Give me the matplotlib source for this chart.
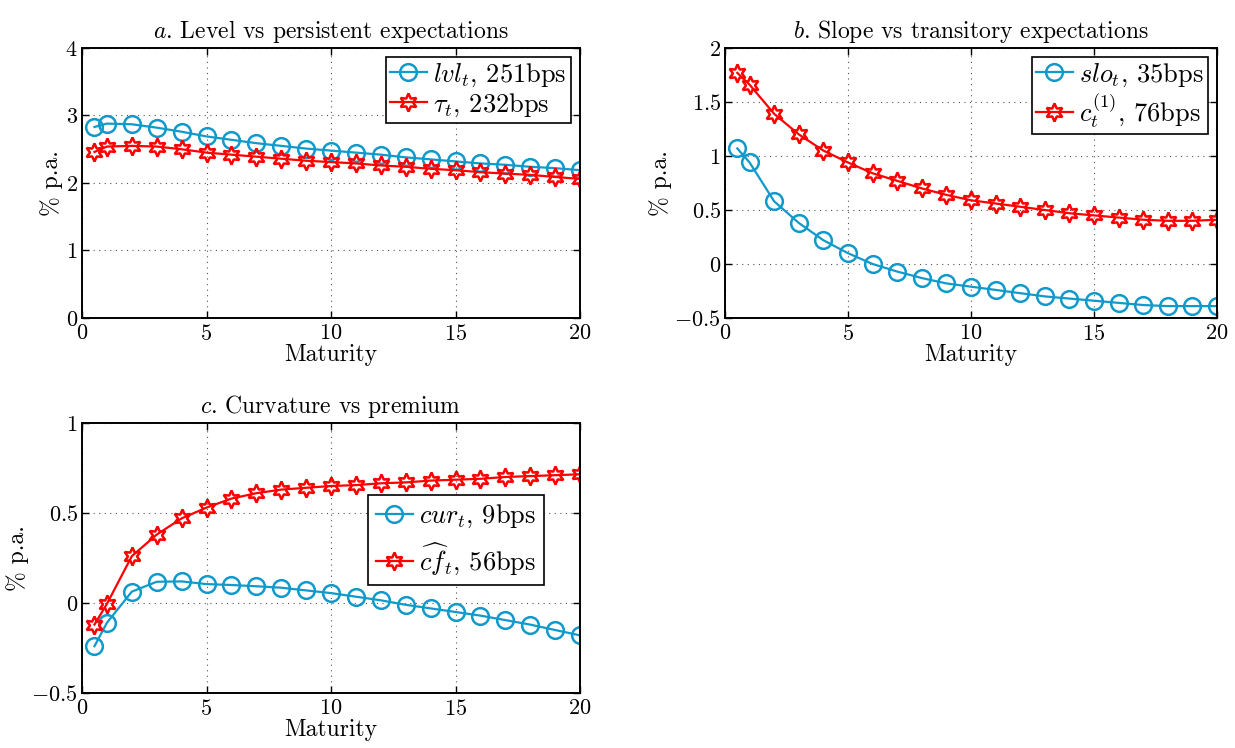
import numpy as np
import matplotlib
matplotlib.use('Agg')
import matplotlib.pyplot as plt
from matplotlib.ticker import FuncFormatter

plt.rcParams['font.family'] = 'cmr10'
plt.rcParams['mathtext.fontset'] = 'cm'
plt.rcParams['axes.formatter.use_mathtext'] = True
plt.rcParams['font.size'] = 17

# Data
maturity = [0.5] + list(range(1, 21))

lvl = [2.83, 2.88, 2.87, 2.82, 2.76, 2.69, 2.64, 2.59, 2.55, 2.51, 2.48,
       2.45, 2.42, 2.38, 2.35, 2.32, 2.29, 2.27, 2.24, 2.22, 2.19]
tau = [2.46, 2.54, 2.55, 2.54, 2.50, 2.45, 2.42, 2.39, 2.36, 2.33, 2.31,
       2.29, 2.26, 2.24, 2.21, 2.19, 2.16, 2.14, 2.12, 2.09, 2.06]

slo = [1.07, 0.94, 0.58, 0.38, 0.22, 0.10, 0.00, -0.07, -0.13, -0.18, -0.21,
       -0.24, -0.27, -0.30, -0.32, -0.34, -0.36, -0.38, -0.39, -0.39, -0.39]
c1 = [1.77, 1.66, 1.39, 1.20, 1.05, 0.94, 0.84, 0.77, 0.70, 0.64, 0.59,
      0.56, 0.53, 0.50, 0.47, 0.45, 0.43, 0.41, 0.40, 0.40, 0.41]

cur = [-0.24, -0.11, 0.063, 0.118, 0.12, 0.105, 0.10, 0.093, 0.085, 0.07, 0.055,
       0.035, 0.015, -0.01, -0.03, -0.05, -0.07, -0.095, -0.12, -0.15, -0.18]
cf = [-0.12, -0.005, 0.26, 0.38, 0.47, 0.53, 0.58, 0.61, 0.63, 0.64, 0.65,
      0.655, 0.665, 0.67, 0.68, 0.685, 0.69, 0.70, 0.705, 0.71, 0.715]

blue = '#0f9acb'
red = '#ff0000'
hexagram = (6, 1, 0)

W, H = 1235, 748
fig = plt.figure(figsize=(W / 100, H / 100), dpi=100)


def make_axes(x0, y0, x1, y1):
    return fig.add_axes([x0 / W, 1 - y1 / H, (x1 - x0) / W, (y1 - y0) / H])


def style(ax, ylim, yticks, title):
    ax.set_xlim(0, 20)
    ax.set_ylim(*ylim)
    ax.set_xticks([0, 5, 10, 15, 20])
    ax.set_yticks(yticks)
    fmt = FuncFormatter(lambda v, p: '$%g$' % round(v, 3))
    ax.xaxis.set_major_formatter(fmt)
    ax.yaxis.set_major_formatter(fmt)
    ax.tick_params(direction='in', top=True, right=True, length=5,
                   width=1.0, labelsize=16)
    ax.tick_params(axis='x', pad=4)
    ax.tick_params(axis='y', pad=3)
    ax.grid(True, linestyle=(0, (1, 4)), color='#555555', linewidth=0.8)
    ax.set_xlabel('Maturity', fontsize=17, labelpad=0)
    ax.set_ylabel('% p.a.', fontsize=17, labelpad=2)
    ax.set_title(title, fontsize=17, pad=7)
    for s in ax.spines.values():
        s.set_linewidth(1.4)


def plot_pair(ax, yb, yr, lb, lr):
    ax.plot(maturity, yb, color=blue, lw=1.6, marker='o', ms=12,
            mfc='none', mew=1.8, label=lb)
    ax.plot(maturity, yr, color=red, lw=1.6, marker=hexagram, ms=13,
            mfc='none', mew=1.8, label=lr)


leg_kw = dict(fancybox=False, edgecolor='black', handlelength=1.4,
              handletextpad=0.25, fontsize=19, framealpha=1)

ax_a = make_axes(82, 48, 580, 318)
plot_pair(ax_a, lvl, tau, r'$lvl_t$, 251bps', r'$\tau_t$, 232bps')
style(ax_a, (0, 4), [0, 1, 2, 3, 4], r'$a$. Level vs persistent expectations')
leg = ax_a.legend(loc='upper right', borderaxespad=0.35, labelspacing=0.1,
                  borderpad=0.15, **leg_kw)
leg.get_frame().set_linewidth(1.2)

ax_b = make_axes(725, 48, 1217, 318)
plot_pair(ax_b, slo, c1, r'$slo_t$, 35bps', r'$c_t^{(1)}$, 76bps')
style(ax_b, (-0.5, 2), [-0.5, 0, 0.5, 1, 1.5, 2], r'$b$. Slope vs transitory expectations')
leg = ax_b.legend(loc='upper right', borderaxespad=0.35, labelspacing=0.1,
                  borderpad=0.15, **leg_kw)
leg.get_frame().set_linewidth(1.2)

ax_c = make_axes(82, 423, 580, 693)
plot_pair(ax_c, cur, cf, r'$cur_t$, 9bps', r'$\widehat{cf}_t$, 56bps')
style(ax_c, (-0.5, 1), [-0.5, 0, 0.5, 1], r'$c$. Curvature vs premium')
leg = ax_c.legend(loc='center right', bbox_to_anchor=(0.955, 0.567),
                  labelspacing=0.4, borderpad=0.3, **leg_kw)
leg.get_frame().set_linewidth(1.2)

fig.savefig('out.png', dpi=100)
